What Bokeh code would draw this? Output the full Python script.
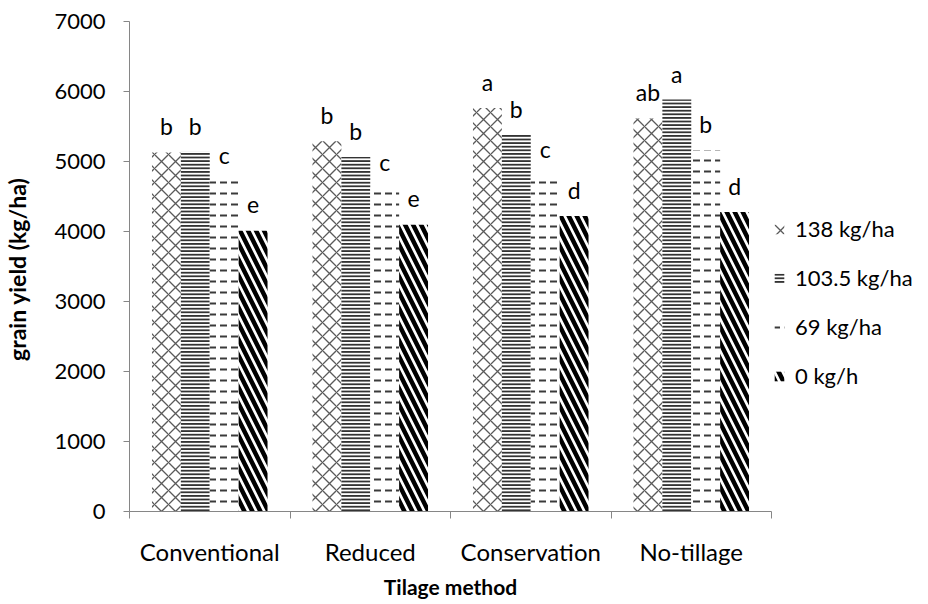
from bokeh.plotting import figure
from bokeh.models import (Range1d, FixedTicker, ColumnDataSource, Legend, LegendItem)
from bokeh.core.properties import value
from bokeh.embed import file_html
from bokeh.resources import INLINE

categories = ["Conventional", "Reduced", "Conservation", "No-tillage"]
series_names = ["138 kg/ha", "103.5 kg/ha", "69 kg/ha", "0 kg/h"]
n138 = [5130, 5290, 5765, 5615]
n103 = [5140, 5065, 5380, 5885]
n69 = [4720, 4615, 4805, 5160]
n0 = [4010, 4095, 4220, 4280]
letters138 = ["b", "b", "a", "ab"]
letters103 = ["b", "b", "b", "a"]
letters69 = ["c", "c", "c", "b"]
letters0 = ["e", "e", "d", "d"]
y_ticks = [0, 1000, 2000, 3000, 4000, 5000, 6000, 7000]

FONT = "Lato"
AXIS_COLOR = "#868686"

p = figure(width=912, height=588, output_backend="svg", toolbar_location=None,
           x_range=Range1d(0, 4), y_range=Range1d(0, 7000),
           min_border_left=129, min_border_right=141, min_border_top=21,
           min_border_bottom=77, frame_width=642, frame_height=490)
p.outline_line_color = None
p.xgrid.visible = False
p.ygrid.visible = False
p.background_fill_color = "white"

centers = [i + 0.5 for i in range(len(categories))]
offsets = [-0.27, -0.09, 0.09, 0.27]
bw = 0.18
styles = [
    dict(hatch_pattern="x", hatch_color="#5a5a5a", hatch_weight=1.3, hatch_scale=14),
    dict(hatch_pattern="-", hatch_color="#333333", hatch_weight=2, hatch_scale=3.6),
    dict(hatch_pattern='"', hatch_color="#3a3a3a", hatch_weight=2, hatch_scale=11),
    dict(hatch_pattern="\\", hatch_color="#000000", hatch_weight=4.5, hatch_scale=16),
]
all_vals = [n138, n103, n69, n0]
all_letters = [letters138, letters103, letters69, letters0]

items = []
for k in range(4):
    xs = [c + offsets[k] for c in centers]
    src = ColumnDataSource(dict(x=xs, top=all_vals[k], lab=all_letters[k]))
    r = p.vbar(x="x", top="top", width=bw, bottom=0, source=src,
               fill_color="white", line_color=None, **styles[k])
    p.text(x="x", y="top", text="lab", source=src, text_align="center",
           text_baseline="middle", y_offset=-26, text_font=value(FONT),
           text_font_size="23px", text_color="black")
    items.append(LegendItem(label=series_names[k], renderers=[r]))

legend = Legend(items=items, location=(2, 122), orientation="vertical",
                label_text_font=FONT, label_text_font_size="22px",
                label_text_color="black", glyph_width=12, glyph_height=12,
                label_height=24, spacing=22, padding=0, margin=0,
                border_line_color=None, background_fill_alpha=0,
                label_standoff=10)
p.add_layout(legend, "right")

# x axis
xa = p.xaxis[0]
xa.ticker = FixedTicker(ticks=centers, minor_ticks=[0, 1, 2, 3, 4])
xa.major_label_overrides = {c: name for c, name in zip(centers, categories)}
xa.major_tick_line_color = None
xa.minor_tick_line_color = AXIS_COLOR
xa.minor_tick_out = 7
xa.minor_tick_in = 0
xa.axis_line_color = AXIS_COLOR
xa.major_label_text_font = FONT
xa.major_label_text_font_size = "24px"
xa.major_label_text_color = "black"
xa.major_label_standoff = 18
xa.axis_label = "Tilage method"
xa.axis_label_text_font = FONT
xa.axis_label_text_font_style = "bold"
xa.axis_label_text_font_size = "21px"
xa.axis_label_text_color = "black"
xa.axis_label_standoff = 5

# y axis
ya = p.yaxis[0]
ya.ticker = FixedTicker(ticks=y_ticks)
ya.minor_tick_line_color = None
ya.major_tick_line_color = AXIS_COLOR
ya.major_tick_out = 6
ya.major_tick_in = 0
ya.axis_line_color = AXIS_COLOR
ya.major_label_text_font = FONT
ya.major_label_text_font_size = "22px"
ya.major_label_text_color = "black"
ya.major_label_standoff = 18
ya.axis_label = "grain  yield (kg/ha)"
ya.axis_label_text_font = FONT
ya.axis_label_text_font_style = "bold"
ya.axis_label_text_font_size = "23px"
ya.axis_label_text_color = "black"
ya.axis_label_standoff = 20

open("out.html", "w").write(file_html(p, INLINE))
